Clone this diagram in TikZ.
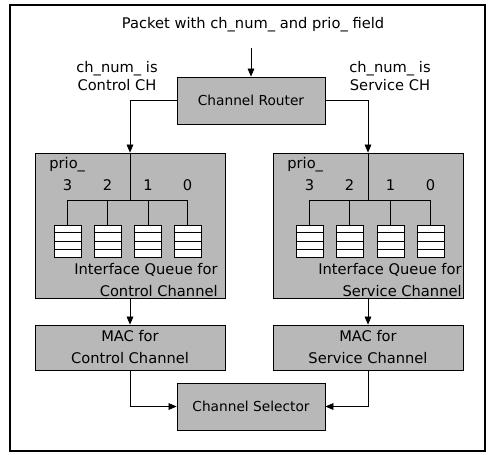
\documentclass[tikz,border=0pt]{standalone}
\usepackage{fontspec}
\setmainfont{DejaVu Sans}
\usetikzlibrary{arrows.meta,calc}

\tikzset{
  blockbox/.style={draw, fill=black!28, line width=0.6pt, inner sep=0pt, align=center},
  queuebox/.style={draw, fill=white, line width=0.6pt, minimum width=20.25pt, minimum height=24pt, inner sep=0pt},
  arr/.style={-{Triangle[length=6pt,width=5pt]}},
  lbl/.style={inner sep=0.75pt, font=\fontsize{11}{13.5}\selectfont, align=center},
  boxtxt/.style={inner sep=0.75pt, font=\fontsize{11}{16.5}\selectfont},
}

\begin{document}
\begin{tikzpicture}[x=0.75pt,y=0.75pt,yscale=-1,xscale=1, line width=0.5pt]

\useasboundingbox (0,0) rectangle (489,454);
\draw [line width=1pt] (10,5) rectangle (485,451);

% top
\node [lbl] (pkt) at (253,25) {Packet with ch\_num\_ and prio\_ field};
\node [blockbox, minimum width=111pt, minimum height=35.25pt, font=\fontsize{10.3}{12}\selectfont] (router) at (251,100.5) {Channel Router};

\node [lbl] (ctrlch) at (117,76) {ch\_num\_ is\\Control CH};
\node [lbl] (servch) at (390,76) {ch\_num\_ is\\Service CH};

% interface queues
\node [blockbox, minimum width=142.5pt, minimum height=108.75pt] (iqc) at (130,225.5) {};
\node [blockbox, minimum width=142.5pt, minimum height=108.75pt] (iqs) at (368,225.5) {};

\node [boxtxt, anchor=west] (prioc) at (48,165) {prio\_};
\node [boxtxt, anchor=west] (prios) at (286,165) {prio\_};

\node [boxtxt, anchor=south east, align=right] (iqctxt) at (219,298) {Interface Queue for\\Control Channel};
\node [boxtxt, anchor=south east, align=right] (iqstxt) at (463,298) {Interface Queue for\\Service Channel};

% queues
\foreach \p/\xc/\xs in {3/67.5/309.5, 2/107.5/349.5, 1/148/390.5, 0/187.5/430.5} {
  \node [queuebox] (qc\p) at (\xc,241) {};
  \node [queuebox] (qs\p) at (\xs,241) {};
  \node [boxtxt] (nc\p) at (\xc,185) {\p};
  \node [boxtxt] (ns\p) at (\xs,185) {\p};
  \foreach \k in {1,2,3} {
    \draw ($(qc\p.north west)!\k/4!(qc\p.south west)$) -- ($(qc\p.north east)!\k/4!(qc\p.south east)$);
    \draw ($(qs\p.north west)!\k/4!(qs\p.south west)$) -- ($(qs\p.north east)!\k/4!(qs\p.south east)$);
  }
}

\coordinate (busc) at (130,200);
\coordinate (buss) at (368,200);
\draw (iqc.north) -- (busc);
\draw (iqs.north) -- (buss);
\draw (qc3.north) -- (qc3.north |- busc) -- (qc0.north |- busc) -- (qc0.north);
\draw (qs3.north) -- (qs3.north |- buss) -- (qs0.north |- buss) -- (qs0.north);
\foreach \p in {2,1} {
  \draw (qc\p.north) -- (qc\p.north |- busc);
  \draw (qs\p.north) -- (qs\p.north |- buss);
}

% MAC and selector
\node [blockbox, minimum width=142.5pt, minimum height=33.75pt] (macc) at (130,347.5) {};
\node [boxtxt, align=center] (macctxt) at (130,347.5) {MAC for\\Control Channel};
\node [blockbox, minimum width=142.5pt, minimum height=33.75pt] (macs) at (368,347.5) {};
\node [boxtxt, align=center] (macstxt) at (368,347.5) {MAC for\\Service Channel};
\node [blockbox, minimum width=111pt, minimum height=35.25pt, font=\fontsize{10.3}{12}\selectfont] (sel) at (251,406.5) {Channel Selector};

% connectors
\draw [arr] (router.north |- 0,48) -- (router.north);
\draw [arr] (router.west) -| (iqc.north);
\draw [arr] (router.east) -| (iqs.north);
\draw [arr] (iqc.south) -- (macc.north);
\draw [arr] (iqs.south) -- (macs.north);
\draw [arr] (macc.south) |- (sel.west);
\draw [arr] (macs.south) |- (sel.east);

\end{tikzpicture}
\end{document}
